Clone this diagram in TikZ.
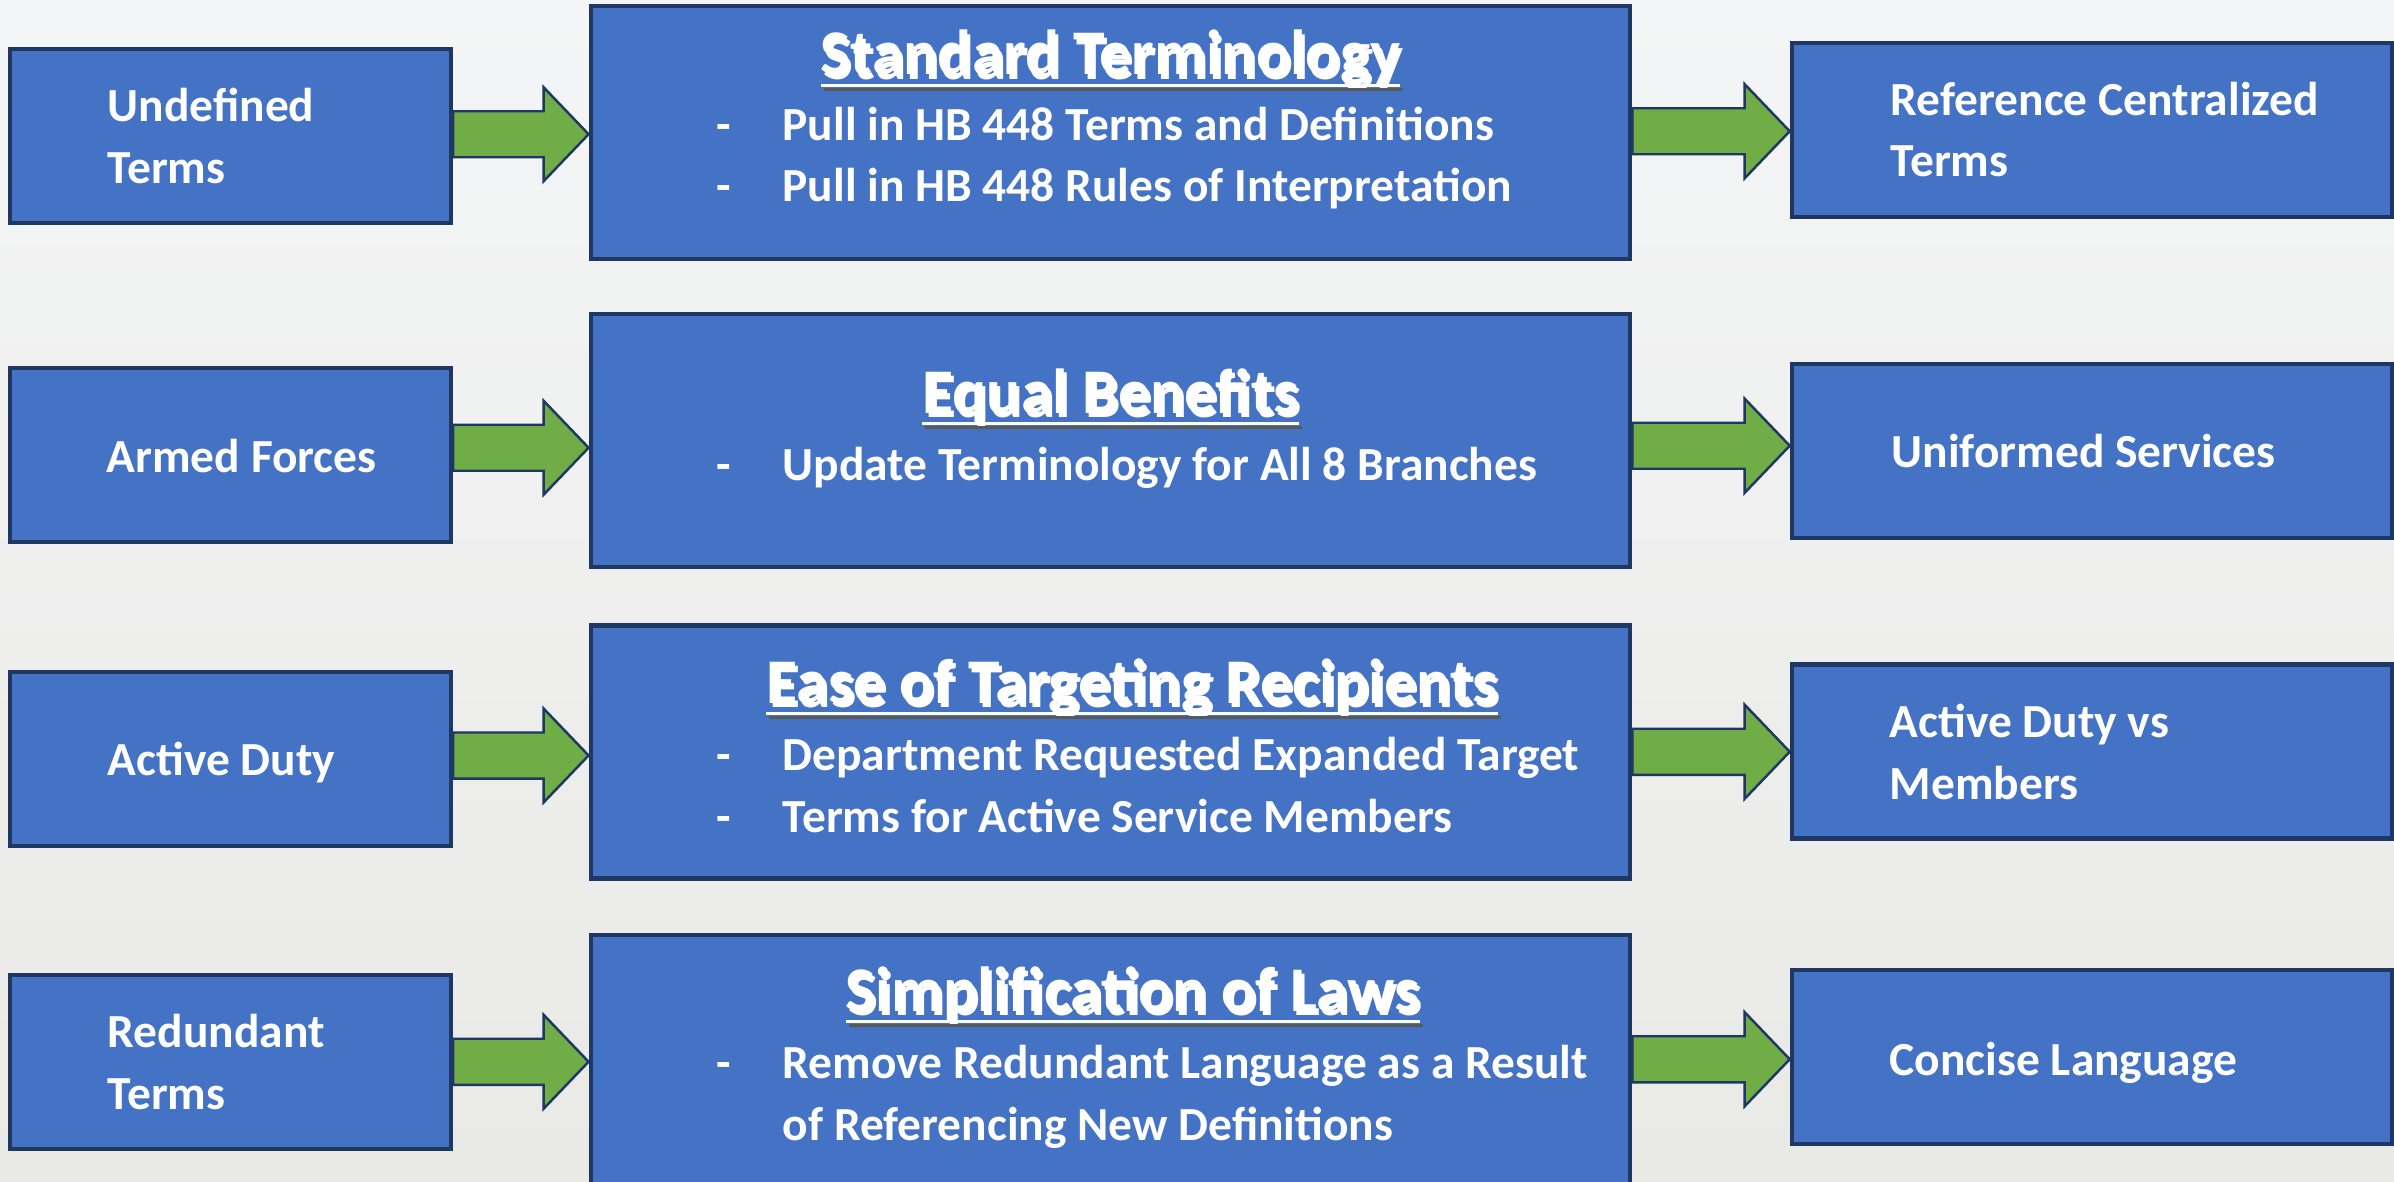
\documentclass[tikz,border=0pt]{standalone}
\usepackage{fontspec}
\setmainfont{Carlito}
\usetikzlibrary{calc}
\definecolor{boxblue}{HTML}{4472C4}
\definecolor{boxline}{HTML}{1F3763}
\definecolor{arrowgreen}{HTML}{70AD47}
\definecolor{bgtop}{HTML}{F4F5F6}
\definecolor{bgbottom}{HTML}{E9E9E6}
\tikzset{
  termbox/.style = {rectangle, fill=boxblue, draw=boxline, line width=1.2pt,
                    minimum width=#1, minimum height=1.74cm, inner sep=0pt},
  termbox/.default = 4.41cm,
  mainbox/.style = {rectangle, fill=boxblue, draw=boxline, line width=1.2pt,
                    minimum width=10.39cm, minimum height=2.53cm, inner sep=0pt},
  boxtext/.style = {text=white, font=\fontsize{13.5}{17.6}\selectfont\bfseries,
                    align=left, inner sep=0pt, anchor=base west},
  headtext/.style = {text=white, font=\fontsize{18.1}{22}\selectfont\bfseries,
                     inner sep=0pt, anchor=base},
  blockarrow/.style = {fill=arrowgreen, draw=boxline, line width=0.7pt, line join=miter}
}
% underlined heading with a dark drop shadow
\newcommand{\ttl}[1]{%
  \sbox0{#1}%
  \rlap{\hspace{0.03cm}\raisebox{-0.04cm}{\color{black!65}\rlap{\usebox0}\rule[-0.12cm]{\wd0}{0.035cm}}}%
  \rlap{\usebox0}\rule[-0.12cm]{\wd0}{0.035cm}}
\newcommand{\bul}{\makebox[0.66cm][l]{-}}
% fat green arrow from the east side of #1 to the west side of #2
\newcommand{\flowarrow}[2]{%
  \draw[blockarrow] let \p1 = (#1.east), \p2 = (#2.west), \p3 = ($(#1.east)!0.5!(#2.west)$) in
    (\x1,\y3+0.23cm) -- (\x2-0.45cm,\y3+0.23cm) -- (\x2-0.45cm,\y3+0.47cm) -- (\x2,\y3)
    -- (\x2-0.45cm,\y3-0.47cm) -- (\x2-0.45cm,\y3-0.23cm) -- (\x1,\y3-0.23cm) -- cycle;}

\begin{document}
\begin{tikzpicture}[x=0.01cm, y=-0.01cm]
	\clip (0,0) rectangle (2394,1182);
	\shade[top color=bgtop, bottom color=bgbottom] (0,0) rectangle (2394,1182);
	
	% Old terms (left)
	\node[termbox] (u1) at (230.5,136) {};
	\node[termbox] (u2) at (230.5,455) {};
	\node[termbox] (u3) at (230.5,759) {};
	\node[termbox] (u4) at (230.5,1062) {};
	
	% Topics (middle)
	\node[mainbox] (m1) at (1110.5,132.5) {};
	\node[mainbox] (m2) at (1110.5,440.5) {};
	\node[mainbox] (m3) at (1110.5,752) {};
	\node[mainbox] (m4) at (1110.5,1061.5) {};
	
	% Results (right)
	\node[termbox=6cm] (r1) at (2092,130) {};
	\node[termbox=6cm] (r2) at (2092,451) {};
	\node[termbox=6cm] (r3) at (2092,751.5) {};
	\node[termbox=6cm] (r4) at (2092,1057) {};
	
	% Arrows
	\flowarrow{u1}{m1}
	\flowarrow{u2}{m2}
	\flowarrow{u3}{m3}
	\flowarrow{u4}{m4}
	\flowarrow{m1}{r1}
	\flowarrow{m2}{r2}
	\flowarrow{m3}{r3}
	\flowarrow{m4}{r4}
	
	% Left labels (placed at the baseline of the last line)
	\node[boxtext] (u1t) at (107,183) {Undefined\\Terms};
	\node[boxtext] (u2t) at (106,472) {Armed Forces};
	\node[boxtext] (u3t) at (107,775) {Active Duty};
	\node[boxtext] (u4t) at (107,1109) {Redundant\\Terms};
	
	% Middle headings and points
	\node[headtext] (m1h) at (1110.5,75) {\ttl{Standard Terminology}};
	\node[boxtext] (m1t) at (716,202) {\bul Pull in HB 448 Terms and Definitions\\\bul Pull in HB 448 Rules of Interpretation};
	\node[headtext] (m2h) at (1110.5,413) {\ttl{Equal Benefits}};
	\node[boxtext] (m2t) at (716,480) {\bul Update Terminology for All 8 Branches};
	\node[headtext] (m3h) at (1132,703) {\ttl{Ease of Targeting Recipients}};
	\node[boxtext] (m3t) at (716,832) {\bul Department Requested Expanded Target\\\bul Terms for Active Service Members};
	\node[headtext] (m4h) at (1133,1011) {\ttl{Simplification of Laws}};
	\node[boxtext] (m4t) at (716,1140) {\bul Remove Redundant Language as a Result\\\hspace*{0.66cm}of Referencing New Definitions};
	
	% Right labels
	\node[boxtext] (r1t) at (1890,177) {Reference Centralized\\Terms};
	\node[boxtext] (r2t) at (1891,467) {Uniformed Services};
	\node[boxtext] (r3t) at (1889,799) {Active Duty vs\\Members};
	\node[boxtext] (r4t) at (1889,1075) {Concise Language};
	
\end{tikzpicture}
\end{document}
